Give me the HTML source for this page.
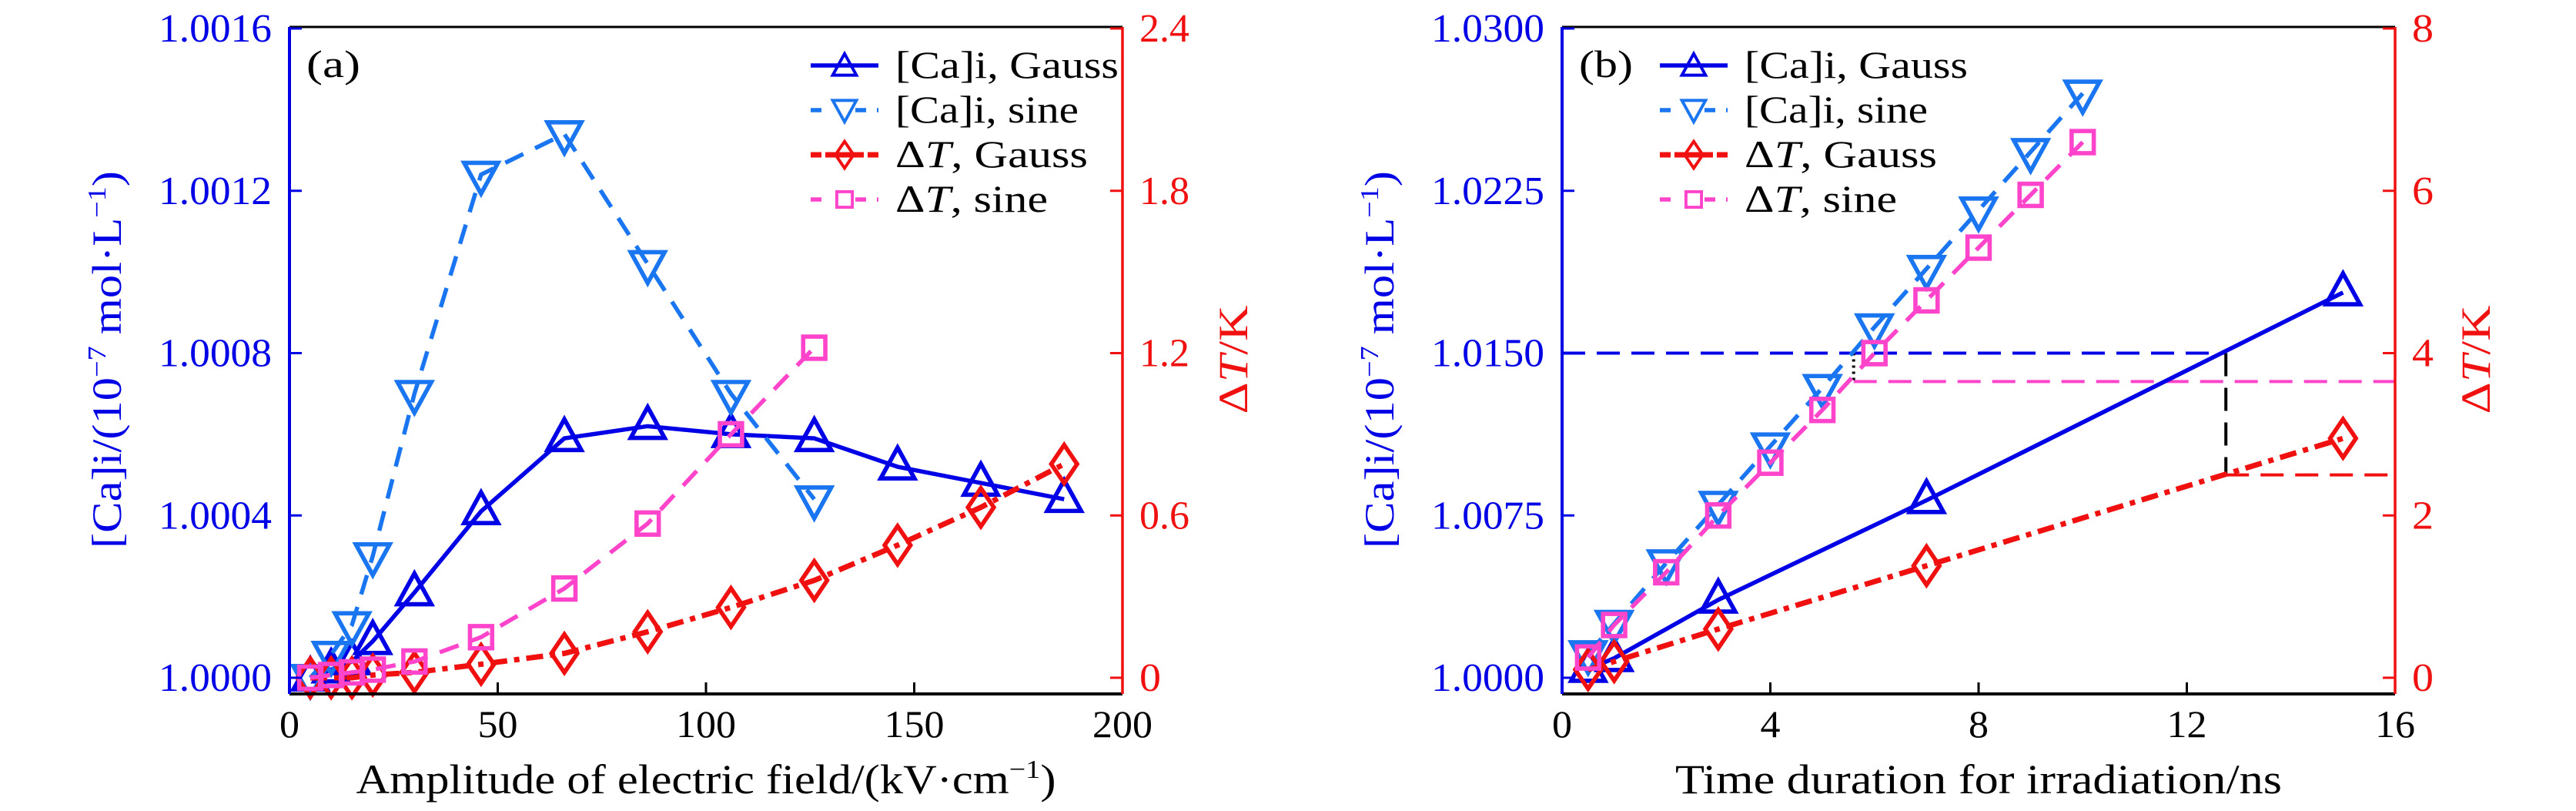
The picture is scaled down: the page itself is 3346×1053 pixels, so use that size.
<!DOCTYPE html>
<html><head><meta charset="utf-8"><style>
html,body{margin:0;padding:0;background:#fff;}
svg{display:block;font-family:"Liberation Serif",serif;}
</style></head><body>
<svg id="fig" xmlns="http://www.w3.org/2000/svg" width="3346" height="1053" viewBox="0 0 3346 1053"></svg>
<script>
// ---- Panel (a) data ----
const aX = [5,10,15,20,30,46,66,86,106,126,146,166,186];
const aCaGauss = [1.00000,1.00002,1.00004,1.00009,1.00021,1.00041,1.00059,1.00062,1.00060,1.00059,1.00052,1.00048,1.00044];
const aXSine = [5,10,15,20,30,46,66,86,106,126];
const aCaSine = [1.00000,1.000057,1.00013,1.00030,1.00070,1.00124,1.00134,1.00102,1.00070,1.00044];
const aTGauss = [0,0,0,0.01,0.02,0.05,0.09,0.17,0.26,0.36,0.49,0.63,0.79];
const aTSine = [0,0.01,0.02,0.03,0.06,0.15,0.33,0.57,0.90,1.22];
const aXTicks = [0,50,100,150,200];
const aYTicks = ["1.0000","1.0004","1.0008","1.0012","1.0016"];
const aRTicks = ["0","0.6","1.2","1.8","2.4"];
// ---- Panel (b) data ----
const bXGauss = [0.5,1,3,7,15];
const bCaGauss = [1.0004,1.0009,1.0036,1.0082,1.0178];
const bTGauss = [0.1,0.2,0.6,1.38,2.95];
const bXSine = [0.5,1,2,3,4,5,6,7,8,9,10];
const bCaSine = [1.0011,1.0025,1.0053,1.0080,1.0107,1.0134,1.0162,1.0189,1.0216,1.0243,1.0270];
const bTSine = [0.25,0.65,1.3,2.0,2.65,3.3,4.0,4.65,5.3,5.95,6.6];
const bXTicks = [0,4,8,12,16];
const bYTicks = ["1.0000","1.0075","1.0150","1.0225","1.0300"];
const bRTicks = ["0","2","4","6","8"];
const bRefCa = 1.015, bRefX1 = 12.75, bRefT1 = 2.5, bRefX2 = 5.6, bRefT2 = 3.65;

const NS="http://www.w3.org/2000/svg";
const svg=document.getElementById('fig');
function mk(tag,attrs,parent){const e=document.createElementNS(NS,tag);for(const k in attrs)e.setAttribute(k,attrs[k]);(parent||svg).appendChild(e);return e;}
const BLUE="#0000e6",LBLUE="#1a75f0",RED="#f01010",PINK="#ff44cc";
const TOP=37,BOT=880,AXB=901,AXT=35;
const SA='spacingAndGlyphs';

function marker(g,type,cx,cy,col,s){
  let e;
  const sw=s*0.14;
  if(type==='tri'){e=mk('polygon',{points:`${cx},${cy-s*0.62} ${cx-s*0.55},${cy+s*0.38} ${cx+s*0.55},${cy+s*0.38}`,fill:'none',stroke:col,'stroke-width':sw},g);}
  else if(type==='itri'){e=mk('polygon',{points:`${cx},${cy+s*0.62} ${cx-s*0.55},${cy-s*0.38} ${cx+s*0.55},${cy-s*0.38}`,fill:'none',stroke:col,'stroke-width':sw},g);}
  else if(type==='dia'){e=mk('polygon',{points:`${cx},${cy-s*0.62} ${cx+s*0.42},${cy} ${cx},${cy+s*0.62} ${cx-s*0.42},${cy}`,fill:'none',stroke:col,'stroke-width':sw},g);}
  else {e=mk('rect',{x:cx-s*0.36,y:cy-s*0.36,width:s*0.72,height:s*0.72,fill:'none',stroke:col,'stroke-width':sw},g);}
  return e;
}

function panel(o){
  const g=mk('g',{});
  
  
  const sx=v=>o.L+(v-o.x0)/(o.x1-o.x0)*(o.R-o.L);
  const sy=v=>BOT-(v-o.y0)/(o.y1-o.y0)*(BOT-TOP);
  const sr=v=>BOT-(v-o.r0)/(o.r1-o.r0)*(BOT-TOP);
  if(o.refs)o.refs(g,sx,sy,sr);
  o.series.forEach(s=>{
    const ys=s.axis==='L'?sy:sr;
    const pts=s.x.map((x,i)=>`${sx(x)},${ys(s.y[i])}`).join(' ');
    const pl=mk('polyline',{points:pts,fill:'none',stroke:s.col,'stroke-width':s.w||5.5,'stroke-dasharray':s.dash||'none'},g);
    
    
    s.x.forEach((x,i)=>{
      const m=marker(g,s.mk,sx(x),ys(s.y[i]),s.col,40);
      
      
    });
  });
  const top=mk('line',{x1:o.L,y1:AXT,x2:o.R,y2:AXT,stroke:'#000','stroke-width':3},g);
  
  const bot=mk('line',{x1:o.L,y1:AXB,x2:o.R,y2:AXB,stroke:'#000','stroke-width':4},g);
  
  const la=mk('line',{x1:o.L,y1:AXT,x2:o.L,y2:AXB,stroke:BLUE,'stroke-width':4},g);
  
  const ra=mk('line',{x1:o.R,y1:AXT,x2:o.R,y2:AXB,stroke:RED,'stroke-width':3.5},g);
  
  o.xt.forEach(v=>{
    const x=sx(v);
    if(v!==o.x0&&v!==o.x1)mk('line',{x1:x,y1:AXB,x2:x,y2:AXB-15,stroke:'#000','stroke-width':3},g);
    const s=String(v);
    const t=mk('text',{x:x,y:957,'text-anchor':'middle','font-size':50,fill:'#000',textLength:s.length*26,lengthAdjust:SA},g);t.textContent=s;
    
  });
  o.yt.forEach((lab,i)=>{
    const y=BOT-i/(o.yt.length-1)*(BOT-TOP);
    mk('line',{x1:o.L,y1:y,x2:o.L+16,y2:y,stroke:BLUE,'stroke-width':3},g);
    const t=mk('text',{x:o.L-23,y:y+17,'text-anchor':'end','font-size':52,fill:BLUE,textLength:147,lengthAdjust:SA},g);t.textContent=lab;
    
  });
  o.rt.forEach((lab,i)=>{
    const y=BOT-i/(o.rt.length-1)*(BOT-TOP);
    mk('line',{x1:o.R,y1:y,x2:o.R-16,y2:y,stroke:RED,'stroke-width':3},g);
    const t=mk('text',{x:o.R+22,y:y+17,'text-anchor':'start','font-size':52,fill:RED,textLength:lab.length===1?28:65,lengthAdjust:SA},g);t.textContent=lab;
    
  });
  const xt=mk('text',{x:(o.L+o.R)/2,y:1030,'text-anchor':'middle','font-size':54,fill:'#000',textLength:o.xtl,lengthAdjust:SA},g);
  xt.innerHTML=o.xtitle;
  
  const yl=mk('text',{x:0,y:0,'text-anchor':'middle','font-size':54,fill:BLUE,transform:`translate(${o.ylx},467) rotate(-90)`,textLength:490,lengthAdjust:SA},g);
  yl.innerHTML='[Ca]i/(10<tspan dy="-20" font-size="34">−7</tspan><tspan dy="20"> mol·L</tspan><tspan dy="-20" font-size="34">−1</tspan><tspan dy="20">)</tspan>';
  
  const yr=mk('text',{x:0,y:0,'text-anchor':'middle','font-size':54,fill:RED,transform:`translate(${o.yrx},467) rotate(-90)`,textLength:141,lengthAdjust:SA},g);
  yr.innerHTML='Δ<tspan font-style="italic">T</tspan>/K';
  
  const pl=mk('text',{x:o.L+22,y:100,'font-size':50,fill:'#000',textLength:70,lengthAdjust:SA},g);pl.textContent=o.label;
  
  const labs=['[Ca]i, Gauss','[Ca]i, sine','Δ<tspan font-style="italic">T</tspan>, Gauss','Δ<tspan font-style="italic">T</tspan>, sine'];
  const lens=[290,238,250,198];
  const lg=mk('g',{},g);
  
  o.series.forEach((s,i)=>{
    const y=85+i*58;
    const e=mk('g',{},lg);
    
    mk('line',{x1:o.lx,y1:y,x2:o.lx+88,y2:y,stroke:s.col,'stroke-width':s.w||5.5,'stroke-dasharray':s.ldash||'none'},e);
    marker(e,s.mk,o.lx+44,y+(s.mk==='tri'?2:s.mk==='itri'?-2:0),s.col,28);
    const t=mk('text',{x:o.lx+110,y:y+16,'font-size':50,fill:'#000',textLength:lens[i],lengthAdjust:SA},e);t.innerHTML=labs[i];
  });
}

panel({name:'panel-a',label:'(a)',L:376,R:1458,x0:0,x1:200,y0:1.0,y1:1.0016,r0:0,r1:2.4,
  xt:aXTicks,yt:aYTicks,rt:aRTicks,ylx:157,yrx:1620,lx:1053,xtl:909,
  xtitle:'Amplitude of electric field/(kV·cm<tspan dy="-20" font-size="34">−1</tspan><tspan dy="20">)</tspan>',
  series:[
    {id:'ca-gauss',x:aX,y:aCaGauss,axis:'L',col:BLUE,mk:'tri'},
    {id:'ca-sine',x:aXSine,y:aCaSine,axis:'L',col:LBLUE,mk:'itri',dash:'26 17',ldash:'14 16 0 28 14'},
    {id:'t-gauss',x:aX,y:aTGauss,axis:'R',col:RED,mk:'dia',dash:'22 9 7 9',ldash:'14 5 50 5 14',w:7},
    {id:'t-sine',x:aXSine,y:aTSine,axis:'R',col:PINK,mk:'sq',dash:'26 17',ldash:'14 16 0 28 14'}
  ]});

panel({name:'panel-b',label:'(b)',L:2029,R:3111,x0:0,x1:16,y0:1.0,y1:1.03,r0:0,r1:8,
  xt:bXTicks,yt:bYTicks,rt:bRTicks,ylx:1810,yrx:3234,lx:2156,xtl:788,
  xtitle:'Time duration for irradiation/ns',
  refs:(g,sx,sy,sr)=>{
    const r=[
      mk('line',{x1:sx(0),y1:sy(bRefCa),x2:sx(bRefX1),y2:sy(bRefCa),stroke:BLUE,'stroke-width':4,'stroke-dasharray':'30 15'},g),
      mk('line',{x1:sx(bRefX1),y1:sy(bRefCa),x2:sx(bRefX1),y2:sr(bRefT1),stroke:'#000','stroke-width':4,'stroke-dasharray':'30 15'},g),
      mk('line',{x1:sx(bRefX1),y1:sr(bRefT1),x2:sx(16),y2:sr(bRefT1),stroke:RED,'stroke-width':4,'stroke-dasharray':'30 15'},g),
      mk('line',{x1:sx(bRefX2),y1:sr(bRefT2),x2:sx(16),y2:sr(bRefT2),stroke:PINK,'stroke-width':4,'stroke-dasharray':'30 15'},g),
      mk('line',{x1:sx(bRefX2),y1:sy(bRefCa),x2:sx(bRefX2),y2:sr(bRefT2),stroke:'#000','stroke-width':4,'stroke-dasharray':'3 5'},g)];
    r.forEach(e=>{});
  },
  series:[
    {id:'ca-gauss',x:bXGauss,y:bCaGauss,axis:'L',col:BLUE,mk:'tri'},
    {id:'ca-sine',x:bXSine,y:bCaSine,axis:'L',col:LBLUE,mk:'itri',dash:'26 17',ldash:'14 16 0 28 14'},
    {id:'t-gauss',x:bXGauss,y:bTGauss,axis:'R',col:RED,mk:'dia',dash:'22 9 7 9',ldash:'14 5 50 5 14',w:7},
    {id:'t-sine',x:bXSine,y:bTSine,axis:'R',col:PINK,mk:'sq',dash:'26 17',ldash:'14 16 0 28 14'}
  ]});
</script>
</body></html>
